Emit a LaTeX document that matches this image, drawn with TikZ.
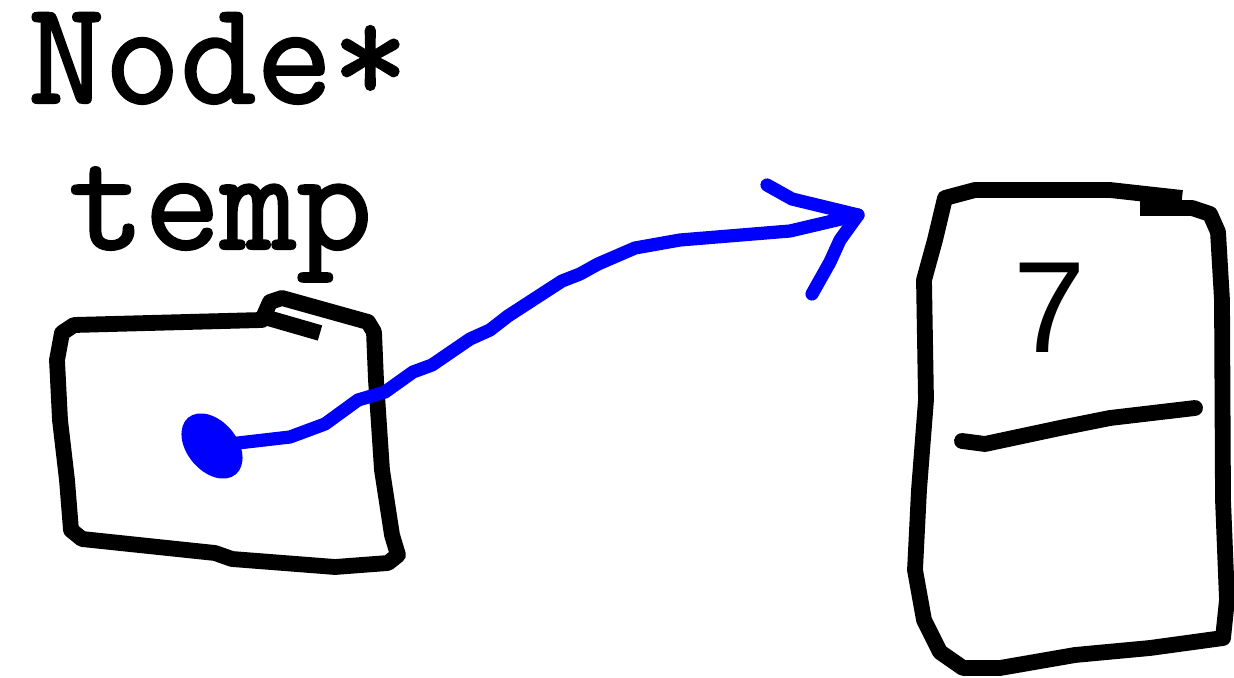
\documentclass[tikz,border=0pt]{standalone}
\usepackage{fontspec}
\setsansfont{Liberation Sans}
\newfontfamily\codefont[FakeBold=1.6]{Latin Modern Mono}
\usepackage{xcolor}
\usepackage{tikz}
\usetikzlibrary{calc}
\definecolor{inkcol}{HTML}{000000}
\definecolor{ptrcol}{HTML}{0000FF}
\tikzset{
  hand/.style={
    draw=inkcol, line width=9pt,
    line cap=round, line join=round,
  },
  ptrline/.style={
    draw=ptrcol, line width=7.5pt,
    line cap=round, line join=round,
  },
  codetext/.style={
    font=\codefont\bfseries\fontsize{84}{90}\selectfont,
    anchor=base west, inner sep=0pt, text height=0.6em, text depth=0.2em,
  },
  valtext/.style={
    font=\sffamily\fontsize{74}{84}\selectfont,
    anchor=base, inner sep=0pt,
  },
}

\begin{document}
\begin{tikzpicture}[x=0.02cm, y=-0.02cm]
\useasboundingbox (0,0) rectangle (1234,678);

% ===== Labels =====
\node[codetext] (typename) at (28,103) {Node*};
\node[codetext] (varname) at (68,249) {temp};

% ===== Pointer box =====
\draw[hand] (262,320) -- (270,302) -- (282,298) -- (368,322) -- (374,332)
  -- (376,380) -- (382,470) -- (392,535) -- (398,555) -- (388,563)
  -- (335,567) -- (232,559) -- (215,553) -- (82,539) -- (71,530)
  -- (67,480) -- (60,420) -- (57,360) -- (62,333) -- (74,325) -- (262,320);
\draw[hand, line cap=butt] (268,318) -- (320,333);
\coordinate (ptr) at (212,446);

% ===== Node box =====
\draw[hand, line cap=butt] (1182,198) -- (1110,190) -- (975,190) -- (945,198)
  -- (935,240) -- (924,280) -- (926,400) -- (919,490) -- (915,570)
  -- (924,620) -- (940,652) -- (963,668) -- (1000,668) -- (1075,655)
  -- (1150,648) -- (1223,638) -- (1227,600) -- (1223,500) -- (1222,300)
  -- (1218,232) -- (1210,214) -- (1192,208) -- (1140,208);
\draw[hand, line cap=butt] (1140,204) -- (1182,204);
\node[valtext] (value) at (1050,353) {7};
\draw[hand] (962,441) -- (985,444) -- (1060,428) -- (1110,418) -- (1195,408);
\coordinate (tip) at (858,215);

% ===== Pointer arrow =====
\fill[ptrcol, rotate around={-50:(ptr)}] (ptr) ellipse (37 and 25);
\draw[ptrline] (ptr) -- (290,437) -- (325,424) -- (358,400) -- (385,392)
  -- (413,372) -- (432,365) -- (470,339) -- (490,330) -- (508,316)
  -- (545,292) -- (562,281) -- (580,274) -- (598,264) -- (635,248)
  -- (680,240) -- (790,231) -- (tip);
\draw[ptrline] (767,185) -- (792,199) -- (tip) -- (840,240) -- (830,262)
  -- (812,294);

\end{tikzpicture}
\end{document}
